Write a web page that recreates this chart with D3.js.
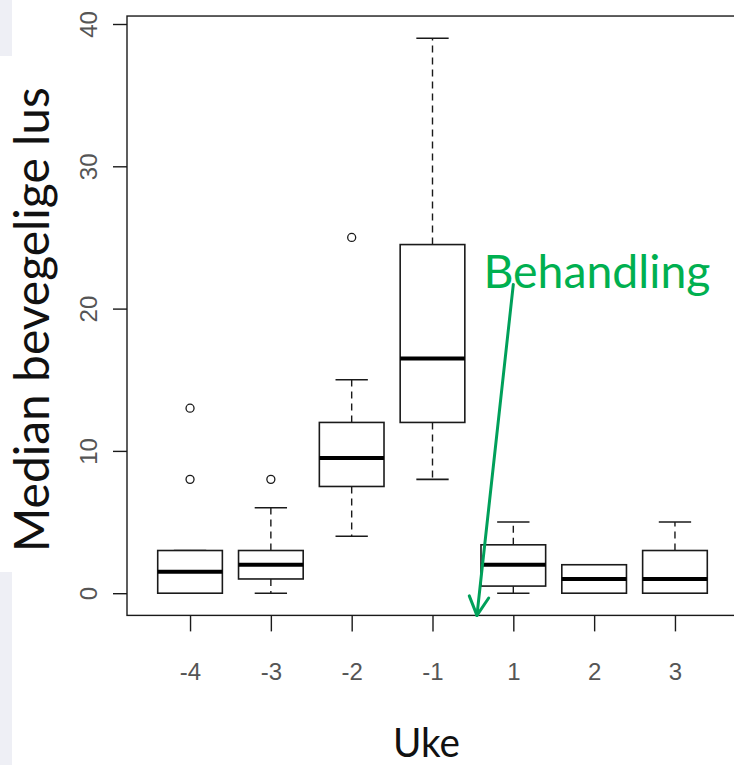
<!DOCTYPE html>
<html>
<head>
<meta charset="utf-8">
<script src="https://cdn.jsdelivr.net/npm/d3@7"></script>
<style>
  html, body { margin: 0; padding: 0; background: #fff; }
  svg { display: block; }
</style>
</head>
<body>
<svg id="chart" width="734" height="765"></svg>
<script>
// ---- data ----
const weeks        = ["-4", "-3", "-2", "-1", "1", "2", "3"];
const q1           = [0, 1, 7.5, 12, 0.5, 0, 0];
const medians      = [1.5, 2, 9.5, 16.5, 2, 1, 1];
const q3           = [3, 3, 12, 24.5, 3.4, 2, 3];
const whiskerLow   = [0, 0, 4, 8, 0, 0, 0];
const whiskerHigh  = [3, 6, 15, 39, 5, 2, 5];
const outliers     = [[13, 8], [8], [25], [], [], [], []];
const yTicks       = [0, 10, 20, 30, 40];
const yLabel       = "Median bevegelige lus";
const xLabel       = "Uke";
const annotationText = "Behandling";
// annotation anchor points in data coordinates [position, value]
const annotationTextAt = [4.63, 21.45];
const arrowFrom        = [5.0, 21.7];
const arrowTo          = [4.55, -1.56];

// ---- layout ----
const svg = d3.select("#chart");
const W = 734, H = 765;

// light grey slide fragments at the left edge
svg.append("rect").attr("x", 0).attr("y", 0).attr("width", 12).attr("height", 56).attr("fill", "#eeeff5");
svg.append("rect").attr("x", 0).attr("y", 572).attr("width", 12).attr("height", H - 572).attr("fill", "#eeeff5");

const n = weeks.length;
const xMin = 0.5 - 0.04 * n, xMax = n + 0.5 + 0.04 * n;  // R-style extended xlim
const x = d3.scaleLinear().domain([xMin, xMax]).range([127, 738]);
const y = d3.scaleLinear().domain([0, 40]).range([593.2, 24]);
const yLo = -1.56, yHi = 40.56;

const ink = "#1a1a1a";
const boxW = (x(2) - x(1)) * 0.8;

// frame
svg.append("rect")
  .attr("x", x(xMin)).attr("y", y(yHi))
  .attr("width", x(xMax) - x(xMin)).attr("height", y(yLo) - y(yHi))
  .attr("fill", "none").attr("stroke", ink).attr("stroke-width", 1.4);

const tickFont = "'Liberation Sans', Arial, sans-serif";
const tickColor = "#555";

// y axis
const gY = svg.append("g")
  .attr("transform", `translate(${x(xMin)},0)`)
  .call(d3.axisLeft(y).tickValues(yTicks).tickSize(14).tickFormat(d3.format("d")));
gY.select(".domain").remove();
gY.selectAll(".tick line").attr("stroke", ink).attr("stroke-width", 1.4);
gY.selectAll(".tick text")
  .attr("x", null).attr("dy", null)
  .attr("transform", "translate(-30,0) rotate(-90)")
  .attr("text-anchor", "middle")
  .attr("fill", tickColor)
  .style("font-family", tickFont)
  .style("font-size", "24px");

// x axis
const gX = svg.append("g")
  .attr("transform", `translate(0,${y(yLo)})`)
  .call(d3.axisBottom(x).tickValues(d3.range(1, n + 1)).tickSize(16).tickFormat((d, i) => weeks[i]));
gX.select(".domain").remove();
gX.selectAll(".tick line").attr("stroke", ink).attr("stroke-width", 1.4);
gX.selectAll(".tick text")
  .attr("y", 680 - y(yLo)).attr("dy", null)
  .attr("text-anchor", "middle")
  .attr("fill", tickColor)
  .style("font-family", tickFont)
  .style("font-size", "24px");

// boxes
const g = svg.append("g");
weeks.forEach((w, i) => {
  const cx = x(i + 1);
  // whiskers (dashed)
  g.append("line").attr("x1", cx).attr("x2", cx).attr("y1", y(q3[i])).attr("y2", y(whiskerHigh[i]))
    .attr("stroke", ink).attr("stroke-width", 1.4).attr("stroke-dasharray", "7,5");
  g.append("line").attr("x1", cx).attr("x2", cx).attr("y1", y(q1[i])).attr("y2", y(whiskerLow[i]))
    .attr("stroke", ink).attr("stroke-width", 1.4).attr("stroke-dasharray", "7,5");
  // staples
  [whiskerHigh[i], whiskerLow[i]].forEach(v => {
    g.append("line").attr("x1", cx - boxW / 4).attr("x2", cx + boxW / 4).attr("y1", y(v)).attr("y2", y(v))
      .attr("stroke", ink).attr("stroke-width", 1.6);
  });
  // box
  g.append("rect").attr("x", cx - boxW / 2).attr("width", boxW)
    .attr("y", y(q3[i])).attr("height", y(q1[i]) - y(q3[i]))
    .attr("fill", "#fff").attr("stroke", ink).attr("stroke-width", 1.6);
  // median
  g.append("line").attr("x1", cx - boxW / 2).attr("x2", cx + boxW / 2)
    .attr("y1", y(medians[i])).attr("y2", y(medians[i]))
    .attr("stroke", "#000").attr("stroke-width", 4);
  // outliers
  outliers[i].forEach(v => {
    g.append("circle").attr("cx", cx).attr("cy", y(v)).attr("r", 4)
      .attr("fill", "none").attr("stroke", ink).attr("stroke-width", 1.3);
  });
});

// axis titles
svg.append("text")
  .attr("transform", `translate(49,${(y(yLo) + y(yHi)) / 2 + 4}) rotate(-90)`)
  .attr("text-anchor", "middle")
  .attr("textLength", 465).attr("lengthAdjust", "spacingAndGlyphs")
  .attr("fill", "#111")
  .style("font-family", "Lato, 'Open Sans', sans-serif")
  .style("font-size", "48px")
  .text(yLabel);

svg.append("text")
  .attr("x", 426.5).attr("y", 756.5)
  .attr("text-anchor", "middle")
  .attr("textLength", 67).attr("lengthAdjust", "spacingAndGlyphs")
  .attr("fill", "#111")
  .style("font-family", "Lato, 'Open Sans', sans-serif")
  .style("font-size", "40px")
  .text(xLabel);

// annotation
svg.append("text")
  .attr("x", x(annotationTextAt[0])).attr("y", y(annotationTextAt[1]))
  .attr("textLength", 227).attr("lengthAdjust", "spacingAndGlyphs")
  .attr("fill", "#00b050")
  .style("font-family", "Lato, 'Open Sans', sans-serif")
  .style("font-size", "46px")
  .text(annotationText);

const ax1 = x(arrowFrom[0]), ay1 = y(arrowFrom[1]);
const ax2 = x(arrowTo[0]), ay2 = y(arrowTo[1]);
const arrowColor = "#00a05a";
svg.append("line").attr("x1", ax1).attr("y1", ay1).attr("x2", ax2).attr("y2", ay2)
  .attr("stroke", arrowColor).attr("stroke-width", 3).attr("stroke-linecap", "round");
const ang = Math.atan2(ay1 - ay2, ax1 - ax2);
const headLen = 21, spread = Math.PI / 6.5;
[ang - spread, ang + spread].forEach(a => {
  svg.append("line").attr("x1", ax2).attr("y1", ay2)
    .attr("x2", ax2 + headLen * Math.cos(a)).attr("y2", ay2 + headLen * Math.sin(a))
    .attr("stroke", arrowColor).attr("stroke-width", 3).attr("stroke-linecap", "round");
});
</script>
</body>
</html>
